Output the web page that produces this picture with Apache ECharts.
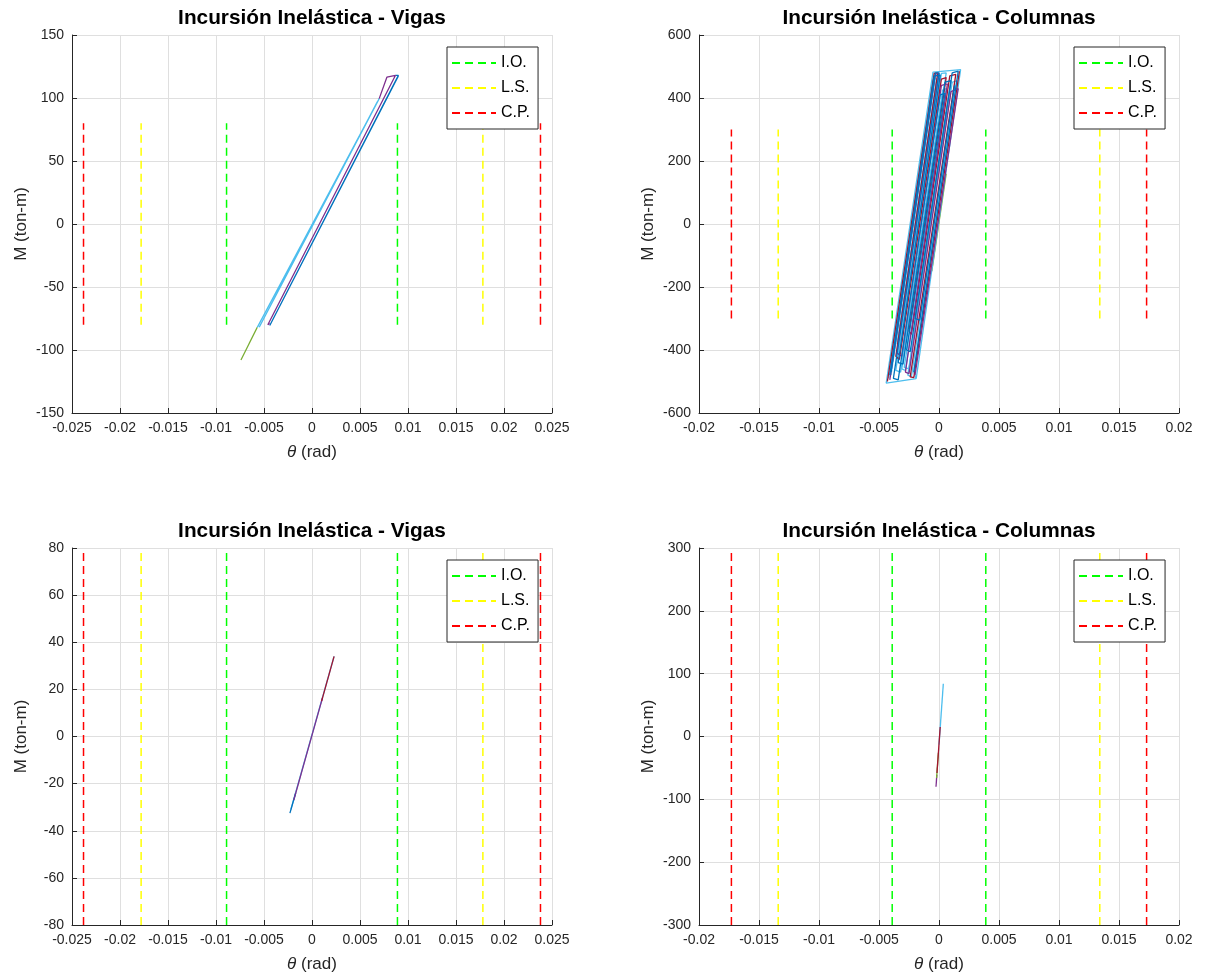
<!DOCTYPE html>
<html><head><meta charset="utf-8">
<script src="https://cdn.jsdelivr.net/npm/echarts@6/dist/echarts.min.js"></script>
<style>html,body{margin:0;padding:0;background:#fff}#c{width:1205px;height:979px}</style>
</head><body><div id="c"></div>
<script>
// ---------- data ----------
const titles = ['Incursión Inelástica - Vigas','Incursión Inelástica - Columnas','Incursión Inelástica - Vigas','Incursión Inelástica - Columnas'];
const yName = 'M (ton-m)';
const xName = 'θ (rad)';
const limitNames = ['I.O.','L.S.','C.P.'];
const vigaLimits = [0.0089, 0.0178, 0.0238];
const colLimits = [0.0039, 0.0134, 0.0173];
const vigaLimitHeight = 80;
const colLimitHeight = 300;

const vigaThetaRange = [-0.025, 0.025];
const colThetaRange = [-0.02, 0.02];
const thetaStep = 0.005;
const topVigaMRange = [-150, 150], topVigaMStep = 50;
const topColMRange = [-600, 600], topColMStep = 200;
const botVigaMRange = [-80, 80], botVigaMStep = 20;
const botColMRange = [-300, 300], botColMStep = 100;

// top-left: beams (theta, M)
const topVigaGreen = [[-0.0074,-108],[-0.0057,-82]];
const topVigaCyan = [[-0.0057,-82],[0.0070,99.5],[0.0072,100],[-0.0055,-82],[-0.0053,-81],[0.0068,97]];
const topVigaPurple = [[0.0070,99.5],[0.0078,116.5],[0.0087,118],[-0.0046,-80],[-0.0044,-79]];
const topVigaBlue = [[0.0087,118],[0.0090,118],[-0.0044,-80.5],[-0.0042,-79],[0.0090,117.5]];

// top-right: columns
const topColGreen = [[0.0006,160],[-0.0006,-150]];
const topColCyan = [[-0.0019,-491],[-0.0044,-505],[-0.0005,482],[0.0018,490],[-0.0019,-491],
  [-0.0021,-470],[0.0015,455],[0.0011,450],[-0.0025,-460],[-0.0029,-455],[0.0006,430],[0.0003,425],
  [-0.0032,-470],[-0.0036,-465],[0.0001,475],[-0.0003,470],[-0.0040,-480]];
const topColCyan2 = [[-0.0042,-490],[-0.0005,460],[-0.0002,462],[-0.0035,-380],[-0.0032,-385],[0.0002,478],
  [0.0006,480],[-0.0031,-460],[-0.0028,-465],[0.0004,350],[0.0007,355],[-0.0026,-480],[-0.0023,-485],[0.0013,440]];
const topColRed = [[-0.0043,-500],[-0.0004,478],[-0.0001,480],[-0.0036,-420],[-0.0033,-430],[0.0002,460],
  [0.0006,465],[-0.0025,-340],[-0.0023,-350],[0.0009,470],[0.0014,475],[-0.0024,-485],[-0.0021,-488],[0.0017,485]];
const topColPurple = [[-0.0041,-495],[-0.0003,476],[0.0000,478],[-0.0035,-410],[-0.0031,-420],[0.0002,440],
  [0.0007,445],[-0.0028,-470],[-0.0025,-475],[0.0010,420],[0.0016,430],[-0.0020,-480]];
const topColBlue = [[-0.0041,-480],[-0.0004,470],[0.0001,472],[-0.0034,-440],[-0.0030,-445],[0.0005,450],
  [0.0010,455],[-0.0020,-300],[-0.0016,-305],[0.0013,440]];
const topColBlue2 = [[-0.0040,-470],[-0.0003,480],[0.0000,480],[-0.0038,-490],[-0.0034,-495],[0.0001,410],
  [0.0005,415],[-0.0027,-400],[-0.0024,-405],[0.0011,480],[0.0016,485],[-0.0021,-470]];

// bottom-left: beams
const botVigaCyan = [[-0.0022,-31],[0.0023,34]];
const botVigaBlue = [[-0.0023,-32.5],[-0.0017,-24]];
const botVigaPurple = [[-0.0019,-27],[0.0011,16.5]];
const botVigaRed = [[0.0010,15],[0.0023,34]];

// bottom-right: columns
const botColCyan = [[0.0000,-13],[0.00036,84]];
const botColRed = [[-0.00017,-58],[0.00010,15]];
const botColGreen = [[-0.00020,-66],[-0.00005,-26]];
const botColPurple = [[-0.00025,-80],[-0.00018,-61]];

// ---------- styles ----------
const FONT = '"Liberation Sans", Arial, Helvetica, sans-serif';
const AX = '#262626';
const limitColors = ['#00ff00','#ffff00','#ff0000'];
const DASH = [8,5];
const C = {blue:'#0072BD', purple:'#7E2F8E', green:'#77AC30', cyan:'#4DBEEE', red:'#A2142F'};

const grids = [
  {left:72, top:35, width:480, height:378},
  {left:699, top:35, width:480, height:378},
  {left:72, top:548, width:480, height:377},
  {left:699, top:548, width:480, height:377}
].map(g => Object.assign({outerBoundsMode:'none', containLabel:false}, g));

function fmtTheta(v){ if (Math.abs(v) < 1e-12) return '0'; return String(parseFloat(v.toFixed(4))); }

function xAxis(i, range){
  return {type:'value', gridIndex:i, min:range[0], max:range[1], interval:thetaStep,
    name:'{t|θ} (rad)', nameLocation:'middle', nameGap:31,
    nameTextStyle:{fontSize:17, color:AX, fontFamily:FONT, rich:{t:{fontSize:17, fontStyle:'italic', color:AX, fontFamily:FONT}}},
    axisLine:{show:true, onZero:false, lineStyle:{color:AX, width:1}},
    axisTick:{show:true, inside:true, length:5, lineStyle:{color:AX, width:1}},
    axisLabel:{fontSize:14, color:AX, fontFamily:FONT, margin:8, formatter:fmtTheta, hideOverlap:false},
    splitLine:{show:true, lineStyle:{color:'#dfdfdf', width:1}}};
}
function yAxis(i, range, step){
  return {type:'value', gridIndex:i, min:range[0], max:range[1], interval:step,
    name:yName, nameLocation:'middle', nameRotate:90, nameGap:42,
    nameTextStyle:{fontSize:17, color:AX, fontFamily:FONT},
    axisLine:{show:true, onZero:false, lineStyle:{color:AX, width:1}},
    axisTick:{show:true, inside:true, length:5, lineStyle:{color:AX, width:1}},
    axisLabel:{fontSize:14, color:AX, fontFamily:FONT, margin:8, hideOverlap:false},
    splitLine:{show:true, lineStyle:{color:'#dfdfdf', width:1}}};
}

const series = [];
let uid = 0;
function addLine(gi, data, color, dash, z){
  series.push({id:'s' + (uid++), name:'s' + uid, type:'line', xAxisIndex:gi, yAxisIndex:gi, data:data,
    symbol:'none', silent:true, colorBy:'series',
    lineStyle:{color:color, width:dash ? 1.5 : 1.3, type:dash || 'solid'}, itemStyle:{color:color}, z:z || 3});
}
function addLimits(gi, limits, h){
  limits.forEach((v, j) => {
    addLine(gi, [[-v, -h],[-v, h]], limitColors[j], DASH, 2);
    addLine(gi, [[v, -h],[v, h]], limitColors[j], DASH, 2);
  });
}

addLimits(0, vigaLimits, vigaLimitHeight);
addLimits(1, colLimits, colLimitHeight);
addLimits(2, vigaLimits, vigaLimitHeight);
addLimits(3, colLimits, colLimitHeight);

// legend-only entries (no data)
limitNames.forEach((n, j) => {
  series.push({id:'leg' + j, name:n, type:'line', xAxisIndex:0, yAxisIndex:0, data:[], symbol:'none',
    lineStyle:{color:limitColors[j], width:1.5, type:DASH}, itemStyle:{color:limitColors[j]}});
});

addLine(0, topVigaGreen, C.green);
addLine(0, topVigaCyan, C.cyan);
addLine(0, topVigaBlue, C.blue);
addLine(0, topVigaPurple, C.purple);

addLine(1, topColGreen, C.green);
addLine(1, topColCyan2, C.cyan);
addLine(1, topColCyan, C.cyan);
addLine(1, topColRed, C.red);
addLine(1, topColPurple, C.purple);
addLine(1, topColBlue, C.blue);
addLine(1, topColBlue2, C.blue);

addLine(2, botVigaCyan, C.cyan);
addLine(2, botVigaBlue, C.blue);
addLine(2, botVigaPurple, C.purple);
addLine(2, botVigaRed, C.red);

addLine(3, botColCyan, C.cyan);
addLine(3, botColPurple, C.purple);
addLine(3, botColGreen, C.green);
addLine(3, botColRed, C.red);

const titleCenters = [[312,18],[939,18],[312,531],[939,531]];
const legendPos = [[447,47],[1074,47],[447,560],[1074,560]];

const option = {
  animation:false,
  backgroundColor:'#fff',
  title: titles.map((t, i) => ({text:t, left:titleCenters[i][0], top:titleCenters[i][1], padding:0,
    textAlign:'center', textVerticalAlign:'middle',
    textStyle:{fontSize:20.8, fontWeight:'bold', color:'#000', fontFamily:FONT}})),
  legend: legendPos.map(p => ({orient:'vertical', left:p[0], top:p[1], data:limitNames,
    itemWidth:44, itemHeight:14, itemGap:9, padding:[8,8,8,4], borderColor:AX, borderWidth:1,
    backgroundColor:'#fff', selectedMode:false, itemStyle:{opacity:0},
    textStyle:{fontSize:16, color:'#000', fontFamily:FONT}})),
  grid: grids,
  xAxis: [xAxis(0, vigaThetaRange), xAxis(1, colThetaRange), xAxis(2, vigaThetaRange), xAxis(3, colThetaRange)],
  yAxis: [yAxis(0, topVigaMRange, topVigaMStep), yAxis(1, topColMRange, topColMStep),
          yAxis(2, botVigaMRange, botVigaMStep), yAxis(3, botColMRange, botColMStep)],
  series: series
};

const chart = echarts.init(document.getElementById('c'), null, {renderer:'canvas'});
chart.setOption(option);
</script></body></html>
